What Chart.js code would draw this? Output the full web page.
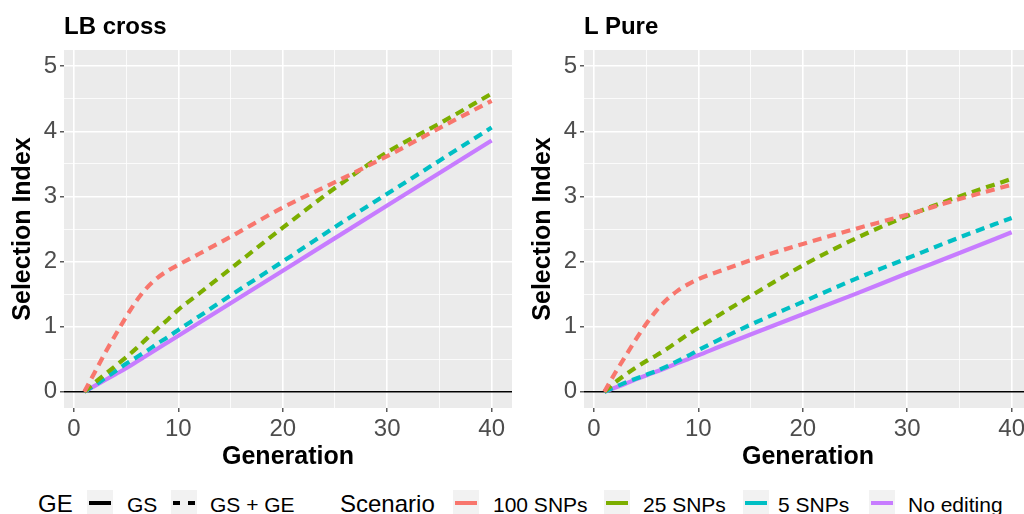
<!DOCTYPE html>
<html>
<head>
<meta charset="utf-8">
<script src="https://cdn.jsdelivr.net/npm/chart.js"></script>
<style>
  body { margin: 0; background: #fff; }
  #wrap { position: relative; width: 1024px; height: 514px; overflow: hidden; font-family: "Liberation Sans", Arial, sans-serif; }
  canvas { position: absolute; top: 0; }
  .panelTitle { position: absolute; top: 14px; font-size: 24px; line-height: 24px; font-weight: bold; color: #000; }
  .legTitle { position: absolute; top: 492px; font-size: 24px; line-height: 24px; color: #000; }
  .legText { position: absolute; top: 494px; font-size: 21px; line-height: 21px; color: #000; white-space: nowrap; }
  .key { position: absolute; top: 490px; width: 26px; height: 26px; background: #f2f2f2; }
  .key span { position: absolute; top: 11px; height: 4px; }
</style>
</head>
<body>
<div id="wrap">
  <canvas id="lbChart" width="520" height="474" style="left:0"></canvas>
  <canvas id="lChart" width="520" height="474" style="left:520px"></canvas>
  <div class="panelTitle" style="left:64px">LB cross</div>
  <div class="panelTitle" style="left:584px">L Pure</div>

  <div class="legTitle" style="left:38px">GE</div>
  <div class="key" style="left:87px"><span style="left:2px;width:22px;background:#000"></span></div>
  <div class="legText" style="left:127px">GS</div>
  <div class="key" style="left:171px"><span style="left:2px;width:7px;background:#000"></span><span style="left:17px;width:7px;background:#000"></span></div>
  <div class="legText" style="left:210px">GS + GE</div>

  <div class="legTitle" style="left:340px">Scenario</div>
  <div class="key" style="left:453px"><span style="left:2px;width:22px;background:#F8766D"></span></div>
  <div class="legText" style="left:493px">100 SNPs</div>
  <div class="key" style="left:604px"><span style="left:2px;width:22px;background:#7CAE00"></span></div>
  <div class="legText" style="left:643px">25 SNPs</div>
  <div class="key" style="left:743px"><span style="left:2px;width:22px;background:#00BFC4"></span></div>
  <div class="legText" style="left:778px">5 SNPs</div>
  <div class="key" style="left:869px"><span style="left:2px;width:22px;background:#C77CFF"></span></div>
  <div class="legText" style="left:908px">No editing</div>
</div>

<script>
const generations = [1, 2, 3, 4, 5, 6, 7, 8, 9, 10, 12, 15, 20, 25, 30, 35, 40];

// LB cross
const lbSnp100 = [0, 0.3, 0.6, 0.88, 1.15, 1.4, 1.6, 1.75, 1.86, 1.95, 2.12, 2.38, 2.83, 3.22, 3.62, 4.05, 4.47];
const lbSnp25 = [0, 0.14, 0.27, 0.4, 0.53, 0.67, 0.82, 0.97, 1.11, 1.26, 1.51, 1.89, 2.52, 3.13, 3.68, 4.12, 4.58];
const lbSnp5 = [0, 0.1, 0.21, 0.32, 0.43, 0.53, 0.63, 0.74, 0.84, 0.95, 1.16, 1.48, 2.0, 2.53, 3.04, 3.55, 4.06];
const lbNoEdit = [0, 0.09, 0.18, 0.27, 0.36, 0.46, 0.56, 0.66, 0.76, 0.86, 1.06, 1.36, 1.86, 2.36, 2.86, 3.36, 3.86];

// L Pure
const lSnp100 = [0, 0.28, 0.54, 0.8, 1.04, 1.25, 1.42, 1.55, 1.65, 1.73, 1.85, 2.02, 2.27, 2.5, 2.72, 2.96, 3.18];
const lSnp25 = [0, 0.14, 0.26, 0.37, 0.47, 0.56, 0.66, 0.77, 0.88, 0.98, 1.18, 1.47, 1.94, 2.35, 2.7, 3.0, 3.27];
const lSnp5 = [0, 0.07, 0.14, 0.2, 0.26, 0.32, 0.39, 0.47, 0.55, 0.64, 0.8, 1.03, 1.38, 1.73, 2.05, 2.37, 2.67];
const lNoEdit = [0, 0.06, 0.12, 0.19, 0.25, 0.31, 0.37, 0.44, 0.5, 0.56, 0.69, 0.88, 1.19, 1.5, 1.82, 2.13, 2.45];

const xTicks = [0, 5, 10, 15, 20, 25, 30, 35, 40];
const yTicks = [0, 0.5, 1, 1.5, 2, 2.5, 3, 3.5, 4, 4.5, 5];

const colors = { snp100: "#F8766D", snp25: "#7CAE00", snp5: "#00BFC4", noEdit: "#C77CFF" };

Chart.defaults.font.family = '"Liberation Sans", Arial, sans-serif';

// grey panel + zero line like ggplot
const panelPlugin = {
  id: "panel",
  beforeDraw(chart) {
    const { ctx, chartArea } = chart;
    ctx.save();
    ctx.fillStyle = "#EBEBEB";
    ctx.fillRect(chartArea.left, chartArea.top, chartArea.right - chartArea.left, chartArea.bottom - chartArea.top);
    ctx.restore();
  },
  beforeDatasetsDraw(chart) {
    const { ctx, chartArea } = chart;
    const y = chart.scales.y.getPixelForValue(0);
    ctx.save();
    ctx.strokeStyle = "#000";
    ctx.lineWidth = 1.6;
    ctx.beginPath();
    ctx.moveTo(chartArea.left, y);
    ctx.lineTo(chartArea.right, y);
    ctx.stroke();
    ctx.restore();
  },
};

function toPoints(values) {
  return values.map((v, i) => ({ x: generations[i], y: v }));
}

function lineSet(label, values, color, dashed) {
  return {
    label: label,
    data: toPoints(values),
    borderColor: color,
    borderWidth: 4.2,
    borderDash: dashed ? [9, 6] : [],
    borderCapStyle: "butt",
    pointRadius: 0,
    cubicInterpolationMode: "monotone",
    fill: false,
  };
}

function makePanel(canvasId, snp100, snp25, snp5, noEdit) {
  const ctx = document.getElementById(canvasId).getContext("2d");
  return new Chart(ctx, {
    type: "line",
    data: {
      datasets: [
        lineSet("100 SNPs", snp100, colors.snp100, true),
        lineSet("25 SNPs", snp25, colors.snp25, true),
        lineSet("5 SNPs", snp5, colors.snp5, true),
        lineSet("No editing", noEdit, colors.noEdit, false),
      ],
    },
    options: {
      responsive: false,
      animation: false,
      devicePixelRatio: 1,
      layout: { padding: { top: 50, right: 8, left: 0, bottom: 0 } },
      plugins: { legend: { display: false }, tooltip: { enabled: false } },
      scales: {
        x: {
          type: "linear",
          min: -0.95,
          max: 41.95,
          afterBuildTicks: (scale) => {
            scale.ticks = xTicks.map((v) => ({ value: v }));
          },
          afterFit: (scale) => {
            scale.height = 66;
          },
          ticks: {
            autoSkip: false,
            maxRotation: 0,
            padding: 3,
            color: "#4D4D4D",
            font: { size: 24 },
            callback: (v) => (v % 10 === 0 ? v : ""),
          },
          grid: {
            color: "#FFFFFF",
            lineWidth: (c) => (c.tick && c.tick.value % 10 === 0 ? 1.6 : 0.8),
            tickLength: 4,
            tickColor: (c) => (c.tick && c.tick.value % 10 === 0 ? "#333333" : "rgba(0,0,0,0)"),
            tickWidth: 1.2,
          },
          border: { display: false },
          title: {
            display: true,
            text: "Generation",
            color: "#000",
            font: { size: 25, weight: "bold" },
            padding: { top: 0, bottom: 2 },
          },
        },
        y: {
          type: "linear",
          min: -0.25,
          max: 5.25,
          afterBuildTicks: (scale) => {
            scale.ticks = yTicks.map((v) => ({ value: v }));
          },
          afterFit: (scale) => {
            scale.width = 64;
          },
          ticks: {
            autoSkip: false,
            padding: 3,
            color: "#4D4D4D",
            font: { size: 24 },
            callback: (v) => (Number.isInteger(v) ? v : ""),
          },
          grid: {
            color: "#FFFFFF",
            lineWidth: (c) => (c.tick && Number.isInteger(c.tick.value) ? 1.6 : 0.8),
            tickLength: 4,
            tickColor: (c) => (c.tick && Number.isInteger(c.tick.value) ? "#333333" : "rgba(0,0,0,0)"),
            tickWidth: 1.2,
          },
          border: { display: false },
          title: {
            display: true,
            text: "Selection Index",
            color: "#000",
            font: { size: 25, weight: "bold" },
            padding: { top: 8, bottom: 0 },
          },
        },
      },
    },
    plugins: [panelPlugin],
  });
}

document.addEventListener("DOMContentLoaded", function () {
  makePanel("lbChart", lbSnp100, lbSnp25, lbSnp5, lbNoEdit);
  makePanel("lChart", lSnp100, lSnp25, lSnp5, lNoEdit);
});
</script>
</body>
</html>
